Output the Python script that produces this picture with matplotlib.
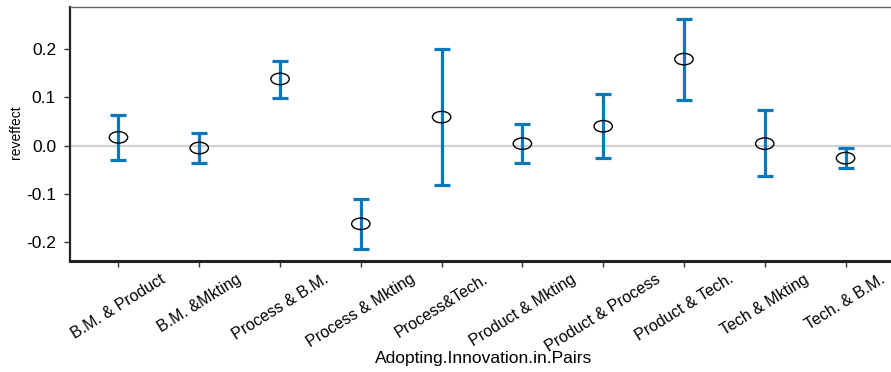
import numpy as np
import matplotlib
matplotlib.use('Agg')
import matplotlib.pyplot as plt
from matplotlib.path import Path
from matplotlib.transforms import Affine2D

pairs = ['B.M. & Product', 'B.M. &Mkting', 'Process & B.M.', 'Process & Mkting',
         'Process&Tech.', 'Product & Mkting', 'Product & Process', 'Product & Tech.',
         'Tech & Mkting', 'Tech. & B.M.']
reveffect = [0.017, -0.005, 0.138, -0.162, 0.059, 0.004, 0.040, 0.179, 0.004, -0.026]
upper = [0.064, 0.026, 0.175, -0.111, 0.201, 0.044, 0.107, 0.262, 0.073, -0.005]
lower = [-0.030, -0.036, 0.099, -0.214, -0.082, -0.036, -0.026, 0.095, -0.064, -0.046]

plt.rcParams['font.family'] = ['Liberation Sans', 'DejaVu Sans']

W, H = 891, 372
fig = plt.figure(figsize=(W/100, H/100), dpi=100)
# axes run a bit past the right edge, like the cropped original
ax = fig.add_axes([70/W, 1 - 261/H, (894 - 70)/W, (261 - 7)/H])

x = np.arange(len(pairs))
y = np.array(reveffect)
yerr = np.array([y - np.array(lower), np.array(upper) - y])

ax.axhline(0, color='#d3d3d3', lw=1.6, zorder=1)
ax.errorbar(x, y, yerr=yerr, fmt='none', ecolor='#0a78bb', elinewidth=2.3,
            capsize=5.8, capthick=2.3, zorder=2)

ellipse = Path.unit_circle().transformed(Affine2D().scale(1.6, 1.0))
ax.scatter(x, y, marker=ellipse, s=175, facecolors='none', edgecolors='black',
           linewidths=1.0, zorder=3)

ax.set_xlim(-0.6, 9.6)
ax.set_ylim(-0.239, 0.287)
ax.set_yticks([-0.2, -0.1, 0.0, 0.1, 0.2])
ax.set_yticklabels(['-0.2', '-0.1', '0.0', '0.1', '0.2'], fontsize=12.5)
ax.set_xticks(x)
ax.set_xticklabels(pairs, rotation=32, ha='center', va='top', fontsize=11.5)
ax.tick_params(axis='both', direction='out', length=4, width=1, color='#333333')
ax.tick_params(axis='y', pad=6)
ax.tick_params(axis='x', pad=3.5)

ax.spines['left'].set_linewidth(1.6)
ax.spines['left'].set_color('#222222')
ax.spines['bottom'].set_linewidth(2.2)
ax.spines['bottom'].set_color('#222222')
ax.spines['top'].set_linewidth(1.0)
ax.spines['top'].set_color('#666666')
ax.spines['right'].set_visible(False)

# axis titles placed where the reference has them
fig.text(16/W, 1 - 132/H, 'reveffect', rotation=90, ha='center', va='center', fontsize=10)
fig.text(484/W, 1 - 359/H, 'Adopting.Innovation.in.Pairs', ha='center', va='center', fontsize=12.5)

fig.savefig('out.png', dpi=100)
